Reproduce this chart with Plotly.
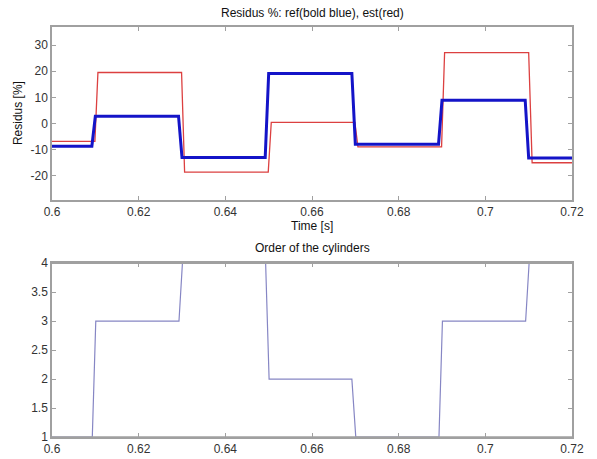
import plotly.graph_objects as go

# Residus (%) - reference (bold blue) corner points
t_ref = [0.6, 0.6092, 0.6100, 0.6292, 0.6300, 0.6492, 0.6500, 0.6692, 0.6700,
         0.6892, 0.6900, 0.7092, 0.7100, 0.72]
res_ref = [-8.7, -8.7, 2.8, 2.8, -13.0, -13.0, 19.1, 19.1, -7.9,
           -7.9, 8.9, 8.9, -13.2, -13.2]

# Residus (%) - estimated (red) corner points
t_est = [0.6, 0.6099, 0.6106, 0.6299, 0.6306, 0.6499, 0.6506, 0.6699, 0.6706,
         0.6899, 0.6906, 0.7100, 0.7108, 0.72]
res_est = [-6.8, -6.8, 19.5, 19.5, -18.6, -18.6, 0.4, 0.4, -8.9,
           -8.9, 27.1, 27.1, -15.0, -15.0]

# Order of the cylinders corner points
t_ord = [0.6, 0.6093, 0.6101, 0.6293, 0.6301, 0.6493, 0.6501, 0.6692, 0.6701,
         0.6893, 0.6901, 0.7093, 0.7101, 0.72]
order = [1, 1, 3, 3, 4, 4, 2, 2, 1, 1, 3, 3, 4, 4]

x_ticks = [0.6, 0.62, 0.64, 0.66, 0.68, 0.7, 0.72]
x_tick_text = ["0.6", "0.62", "0.64", "0.66", "0.68", "0.7", "0.72"]
y1_ticks = [-20, -10, 0, 10, 20, 30]
y1_tick_text = ["-20", "-10", "0", "10", "20", "30"]
y2_ticks = [1, 1.5, 2, 2.5, 3, 3.5, 4]
y2_tick_text = ["1", "1.5", "2", "2.5", "3", "3.5", "4"]

FONT = "Liberation Sans, Arial, sans-serif"
AX = "#a0a0a0"

fig = go.Figure()
fig.add_trace(go.Scatter(x=t_est, y=res_est, mode="lines",
                         line=dict(color="#dc4040", width=1.3),
                         xaxis="x", yaxis="y", showlegend=False))
fig.add_trace(go.Scatter(x=t_ref, y=res_ref, mode="lines",
                         line=dict(color="#1414c8", width=3),
                         xaxis="x", yaxis="y", showlegend=False))
fig.add_trace(go.Scatter(x=t_ord, y=order, mode="lines",
                         line=dict(color="#8686c4", width=1.2),
                         xaxis="x2", yaxis="y2", showlegend=False))


def axis_style(lw=1.5):
    return dict(showline=True, linecolor=AX, linewidth=lw, mirror="ticks",
                ticks="inside", ticklen=4, tickcolor=AX, tickwidth=1.2, showgrid=False,
                zeroline=False, automargin=False, layer="above traces",
                tickfont=dict(family=FONT, size=12, color="#333333"))


fig.update_layout(
    width=597, height=459,
    margin=dict(l=52, r=25, t=27, b=22, autoexpand=False),
    paper_bgcolor="white", plot_bgcolor="white",
    xaxis=dict(domain=[0, 1], anchor="y", range=[0.6, 0.72],
               tickvals=x_ticks, ticktext=x_tick_text, **axis_style()),
    yaxis=dict(domain=[0.579, 1], anchor="x", range=[-29.1, 36.9],
               tickvals=y1_ticks, ticktext=y1_tick_text, **axis_style()),
    xaxis2=dict(domain=[0, 1], anchor="y2", range=[0.6, 0.72],
                tickvals=x_ticks, ticktext=x_tick_text, **axis_style()),
    yaxis2=dict(domain=[0, 0.4237], anchor="x2", range=[1, 4],
                tickvals=y2_ticks, ticktext=y2_tick_text, **axis_style()),
    annotations=[
        dict(text="Residus %: ref(bold blue), est(red)", xref="paper", yref="paper",
             x=0.5, y=1, yshift=5, xanchor="center", yanchor="bottom", showarrow=False,
             font=dict(family=FONT, size=12, color="#111111")),
        dict(text="Order of the cylinders", xref="paper", yref="paper",
             x=0.5, y=0.4237, yshift=6, xanchor="center", yanchor="bottom", showarrow=False,
             font=dict(family=FONT, size=12, color="#111111")),
        dict(text="Time [s]", xref="paper", yref="paper",
             x=0.5, y=0.579, yshift=-17, xanchor="center", yanchor="top", showarrow=False,
             font=dict(family=FONT, size=12, color="#111111")),
        dict(text="Residus [%]", xref="paper", yref="paper", textangle=-90,
             x=0, xshift=-34, y=0.79, xanchor="center", yanchor="middle", showarrow=False,
             font=dict(family=FONT, size=12, color="#111111")),
    ],
)

# frame edges of the lower axes drawn above the trace (as MATLAB's box does)
for yd in (0, 1):
    fig.add_shape(type="line", xref="x2 domain", yref="y2 domain",
                  x0=0, x1=1, y0=yd, y1=yd, layer="above",
                  line=dict(color=AX, width=1.6))

fig.write_html("out.html", config={"displayModeBar": False},
               post_script="document.body.style.margin='0px';document.body.style.overflow='hidden';")
